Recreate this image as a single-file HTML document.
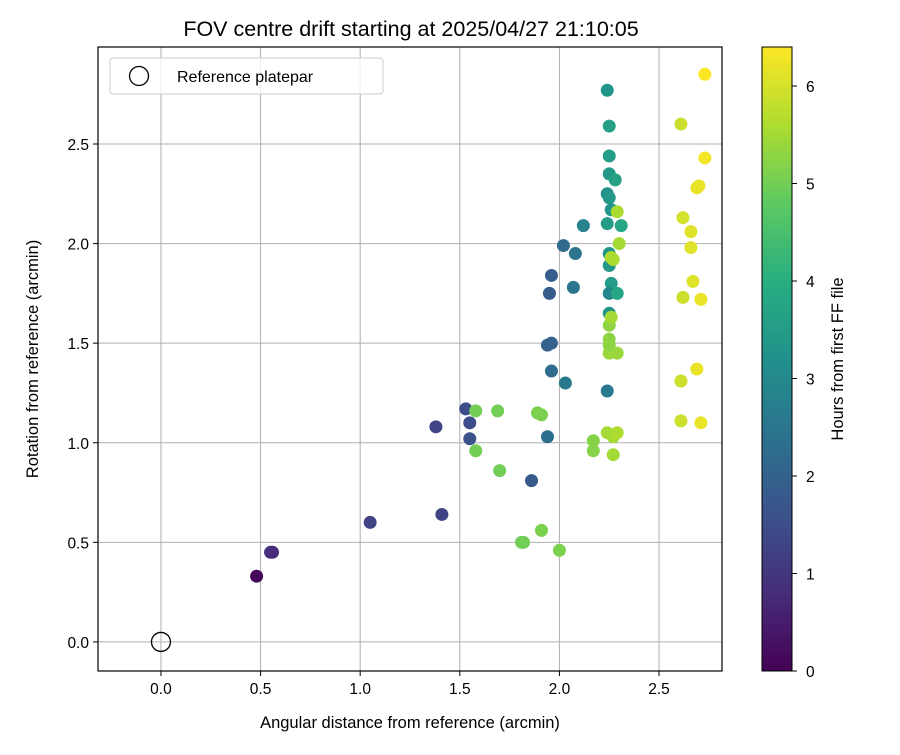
<!DOCTYPE html>
<html><head><meta charset="utf-8"><style>
body{margin:0;background:#fff;width:900px;height:750px;overflow:hidden}
text{font-family:"Liberation Sans","DejaVu Sans",sans-serif;fill:#000}
</style></head><body>
<svg id="chart" width="900" height="750" xmlns="http://www.w3.org/2000/svg">
<defs><linearGradient id="vir" x1="0" y1="1" x2="0" y2="0">
<stop offset="0" stop-color="#440154"/><stop offset="0.125" stop-color="#472d7b"/><stop offset="0.25" stop-color="#3b528b"/><stop offset="0.375" stop-color="#2c728e"/><stop offset="0.5" stop-color="#21918c"/><stop offset="0.625" stop-color="#28ae80"/><stop offset="0.75" stop-color="#5ec962"/><stop offset="0.875" stop-color="#addc30"/><stop offset="1" stop-color="#fde725"/></linearGradient></defs>
<g id="grid"></g><g id="pts"></g><g id="axes"></g>
</svg>
<script>
const xs=[0.48,0.55,0.56,1.05,1.41,1.38,1.53,1.55,1.55,1.86,1.94,1.94,1.96,1.96,1.95,1.96,2.02,2.08,2.07,2.03,2.12,2.24,2.25,2.25,2.25,2.28,2.24,2.25,2.26,2.24,2.31,2.25,2.25,2.26,2.25,2.29,2.25,2.24,
1.58,1.69,1.58,1.70,1.89,1.91,1.81,1.82,1.91,2.00,2.17,2.17,
2.24,2.27,2.29,2.27,2.25,2.29,2.25,2.25,2.25,2.26,2.26,2.30,2.29,2.27,
2.61,2.62,2.66,2.66,2.62,2.67,2.71,2.61,2.69,2.61,2.71,2.70,2.69,2.73,2.73];
const ys=[0.33,0.45,0.45,0.60,0.64,1.08,1.17,1.10,1.02,0.81,1.03,1.49,1.50,1.36,1.75,1.84,1.99,1.95,1.78,1.30,2.09,2.77,2.59,2.44,2.35,2.32,2.25,2.23,2.17,2.10,2.09,1.95,1.89,1.80,1.75,1.75,1.65,1.26,
1.16,1.16,0.96,0.86,1.15,1.14,0.50,0.50,0.56,0.46,1.01,0.96,
1.05,1.03,1.05,0.94,1.45,1.45,1.52,1.49,1.59,1.63,1.93,2.00,2.16,1.92,
2.60,2.13,2.06,1.98,1.73,1.81,1.72,1.31,1.37,1.11,1.10,2.29,2.28,2.43,2.85];
const hrs=[0.1,1.0,0.8,1.3,1.3,1.3,1.5,1.5,1.6,1.8,2.3,2.0,2.0,2.2,1.8,1.9,2.2,2.5,2.5,2.6,2.8,3.3,3.6,3.5,3.4,3.6,3.2,3.4,3.3,3.5,3.8,3.3,3.4,3.5,2.9,3.8,3.3,2.6,
5.0,5.0,5.0,5.0,5.1,5.1,5.0,5.0,5.1,5.1,5.2,5.2,
5.5,5.5,5.6,5.5,5.4,5.4,5.3,5.3,5.3,5.5,5.6,5.5,5.6,5.6,
5.9,6.0,6.1,6.1,5.9,6.1,6.2,5.9,6.2,5.9,6.2,6.2,6.2,6.3,6.4];
const xTicks=[0.0,0.5,1.0,1.5,2.0,2.5];
const yTicks=[0.0,0.5,1.0,1.5,2.0,2.5];
const cTicks=[0,1,2,3,4,5,6];
const L=98,R=722,T=47,B=671,xmin=-0.316,xmax=2.816,ymin=-0.146,ymax=2.987,cmax=6.4;
const X=v=>L+(v-xmin)/(xmax-xmin)*(R-L), Y=v=>B-(v-ymin)/(ymax-ymin)*(B-T), CY=v=>B-v/cmax*(B-T);
const V=[[68,1,84],[71,45,123],[59,82,139],[44,114,142],[33,145,140],[40,174,128],[94,201,98],[173,220,48],[253,231,37]];
function vir(t){t=Math.max(0,Math.min(1,t))*8;const i=Math.min(7,Math.floor(t)),f=t-i;return 'rgb('+V[i].map((c,k)=>Math.round(c+(V[i+1][k]-c)*f)).join(',')+')';}
const NS='http://www.w3.org/2000/svg';
function mk(p,tag,a,txt){const e=document.createElementNS(NS,tag);for(const k in a)e.setAttribute(k,a[k]);if(txt!==undefined)e.textContent=txt;p.appendChild(e);return e;}
const svg=document.getElementById('chart'),g=document.getElementById('grid'),pg=document.getElementById('pts'),ax=document.getElementById('axes');
xTicks.forEach(v=>{const l=mk(g,'line',{x1:X(v),x2:X(v),y1:T,y2:B,stroke:'#b0b0b0','stroke-width':1});

mk(ax,'line',{x1:X(v),x2:X(v),y1:B,y2:B+5,stroke:'#000'});
const t=mk(ax,'text',{x:X(v),y:B+23,'text-anchor':'middle','font-size':15.5},v.toFixed(1));
});
yTicks.forEach(v=>{const l=mk(g,'line',{x1:L,x2:R,y1:Y(v),y2:Y(v),stroke:'#b0b0b0','stroke-width':1});

mk(ax,'line',{x1:L-5,x2:L,y1:Y(v),y2:Y(v),stroke:'#000'});
const t=mk(ax,'text',{x:L-9,y:Y(v)+6,'text-anchor':'end','font-size':15.5},v.toFixed(1));
});
xs.forEach((x,i)=>{const c=mk(pg,'circle',{cx:X(x),cy:Y(ys[i]),r:6.5,fill:vir(hrs[i]/cmax)});
});
const rc=mk(pg,'circle',{cx:X(0),cy:Y(0),r:9.5,fill:'none',stroke:'#000','stroke-width':1.3});

const fr=mk(ax,'rect',{x:L,y:T,width:R-L,height:B-T,fill:'none',stroke:'#000','stroke-width':1.2});

const lg=mk(ax,'g',{});
mk(lg,'rect',{x:110,y:58,width:273,height:36,rx:3,fill:'#fff','fill-opacity':0.8,stroke:'#ccc'});
mk(lg,'circle',{cx:139,cy:76,r:9.5,fill:'none',stroke:'#000','stroke-width':1.3});
mk(lg,'text',{x:177,y:82,'font-size':16},'Reference platepar');
const tt=mk(ax,'text',{x:411,y:36,'text-anchor':'middle','font-size':21.5},'FOV centre drift starting at 2025/04/27 21:10:05');

const xl=mk(ax,'text',{x:410,y:728,'text-anchor':'middle','font-size':16.5},'Angular distance from reference (arcmin)');

const yl=mk(ax,'text',{x:0,y:0,'text-anchor':'middle','font-size':16.5,transform:'translate(38,359) rotate(-90)'},'Rotation from reference (arcmin)');

const cb=mk(ax,'rect',{x:762,y:T,width:30,height:B-T,fill:'url(#vir)',stroke:'#000','stroke-width':1});

cTicks.forEach(v=>{mk(ax,'line',{x1:792,x2:797,y1:CY(v),y2:CY(v),stroke:'#000'});
const t=mk(ax,'text',{x:806,y:CY(v)+6,'font-size':15.5},String(v));
});
const cl=mk(ax,'text',{x:0,y:0,'text-anchor':'middle','font-size':16.5,transform:'translate(843,359) rotate(-90)'},'Hours from first FF file');

</script>
</body></html>
